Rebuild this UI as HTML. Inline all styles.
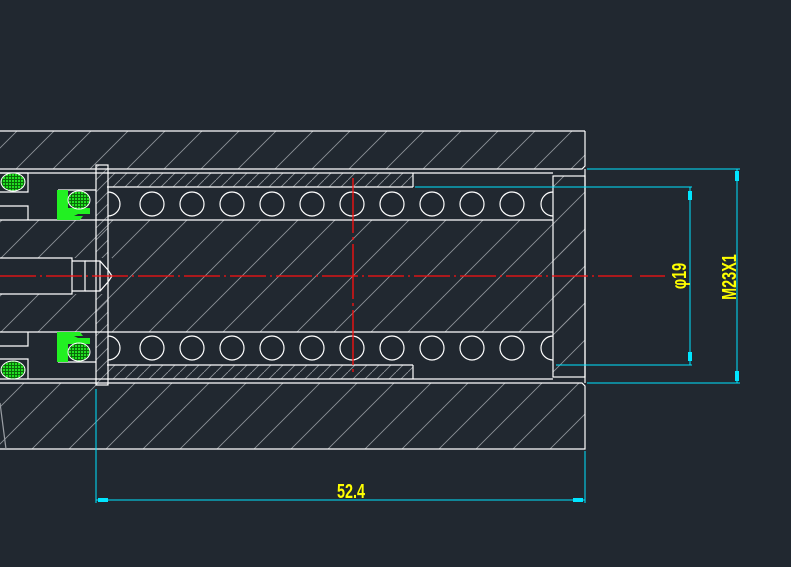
<!DOCTYPE html>
<html><head><meta charset="utf-8"><style>
html,body{margin:0;padding:0;background:#212830;}
svg{display:block}
text{font-family:"Liberation Sans",sans-serif;fill:#ffff00}
</style></head><body>
<svg width="791" height="567" viewBox="0 0 791 567" xmlns="http://www.w3.org/2000/svg">
<defs>
<pattern id="h" patternUnits="userSpaceOnUse" width="37" height="37">
<line x1="0" y1="37" x2="37" y2="0" stroke="#8e9298" stroke-width="0.9"/>
<line x1="-5" y1="5" x2="5" y2="-5" stroke="#8e9298" stroke-width="0.9"/>
<line x1="32" y1="42" x2="42" y2="32" stroke="#8e9298" stroke-width="0.9"/>
</pattern>
<pattern id="hs" patternUnits="userSpaceOnUse" width="12" height="12">
<line x1="0" y1="12" x2="12" y2="0" stroke="#8e9298" stroke-width="0.9"/>
</pattern>
<pattern id="g" patternUnits="userSpaceOnUse" width="3" height="3">
<rect width="3" height="3" fill="#0a6a0a"/><rect width="2" height="2" fill="#22e022"/>
</pattern>
</defs>
<rect width="791" height="567" fill="#212830"/>
<rect x="0" y="131" width="585" height="38" fill="url(#h)"/>
<rect x="0" y="220" width="585" height="112" fill="url(#h)"/>
<rect x="0" y="383" width="585" height="66" fill="url(#h)"/>
<rect x="553" y="176" width="32" height="201" fill="url(#h)"/>
<rect x="107" y="173" width="306" height="14" fill="url(#hs)"/>
<rect x="107" y="365" width="306" height="14" fill="url(#hs)"/>
<rect x="96" y="165" width="12" height="220" fill="url(#hs)"/>
<rect x="0" y="258" width="112" height="36" fill="#212830"/>
<g fill="none" stroke="#fff" stroke-width="1.2">
<line x1="0" y1="131" x2="585" y2="131"/>
<polyline points="585,131 585,166 582,169 0,169"/>
<line x1="0" y1="173" x2="553" y2="173"/>
<line x1="107" y1="187" x2="413" y2="187"/>
<line x1="413" y1="173" x2="413" y2="187"/>
<line x1="0" y1="220" x2="553" y2="220"/>
<line x1="0" y1="332" x2="553" y2="332"/>
<line x1="0" y1="379" x2="553" y2="379"/>
<line x1="107" y1="365" x2="413" y2="365"/>
<line x1="413" y1="365" x2="413" y2="379"/>
<polyline points="0,383 582,383 585,386 585,449 0,449"/>
<rect x="553" y="176" width="32" height="201"/>
<line x1="585" y1="169" x2="585" y2="383"/>
<rect x="96" y="165" width="12" height="220"/>
<polyline points="0,258 72,258 72,294 0,294"/>
<polyline points="72,261 85,261 85,291 72,291"/>
<polyline points="85,261 100,261 108,270 112,276 108,282 100,291 85,291"/>
<line x1="100" y1="261" x2="100" y2="291"/>
<polyline points="0,173 28,173 28,192 0,192"/>
<polyline points="0,206 28,206 28,220"/>
<polyline points="0,359 28,359 28,379"/>
<polyline points="0,346 28,346 28,332"/>
<polyline points="58,190 96,190"/><polyline points="58,362 96,362"/>
<line x1="0" y1="403" x2="6" y2="449" stroke="#9a9ea4"/>
</g>
<g fill="none" stroke="#fff" stroke-width="1.2">
<path d="M108,192 A12,12 0 0 1 108,216"/>
<path d="M108,336 A12,12 0 0 1 108,360"/>
<circle cx="152" cy="204" r="12"/><circle cx="192" cy="204" r="12"/><circle cx="232" cy="204" r="12"/><circle cx="272" cy="204" r="12"/><circle cx="312" cy="204" r="12"/><circle cx="352" cy="204" r="12"/><circle cx="392" cy="204" r="12"/><circle cx="432" cy="204" r="12"/><circle cx="472" cy="204" r="12"/><circle cx="512" cy="204" r="12"/>
<circle cx="152" cy="348" r="12"/><circle cx="192" cy="348" r="12"/><circle cx="232" cy="348" r="12"/><circle cx="272" cy="348" r="12"/><circle cx="312" cy="348" r="12"/><circle cx="352" cy="348" r="12"/><circle cx="392" cy="348" r="12"/><circle cx="432" cy="348" r="12"/><circle cx="472" cy="348" r="12"/><circle cx="512" cy="348" r="12"/>
<path d="M553,192 A12,12 0 0 0 553,216"/>
<path d="M553,336 A12,12 0 0 0 553,360"/>
</g>
<ellipse cx="13" cy="182" rx="12" ry="9" fill="url(#g)" stroke="#fff"/>
<ellipse cx="13" cy="370" rx="12" ry="9" fill="url(#g)" stroke="#fff"/>
<path d="M57,190 H68 V208 H90 V214 H78 L74,216 H83 L80,220 H57 Z" fill="#22f022"/>
<ellipse cx="79" cy="200" rx="11" ry="9" fill="url(#g)" stroke="#fff"/>
<path d="M57,362 H68 V344 H90 V338 H78 L74,336 H83 L80,332 H57 Z" fill="#22f022"/>
<ellipse cx="79" cy="352" rx="11" ry="9" fill="url(#g)" stroke="#fff"/>
<line x1="0" y1="276" x2="632" y2="276" stroke="#ff1010" stroke-width="1.3" stroke-dasharray="36,4,2,4"/>
<line x1="640" y1="276" x2="665" y2="276" stroke="#ff1010" stroke-width="1.3"/>
<line x1="353" y1="178" x2="353" y2="372" stroke="#ff1010" stroke-width="1.3" stroke-dasharray="55,4,3,4"/>
<g stroke="#00e5ff" stroke-width="1" fill="#00e5ff">
<line x1="587" y1="169" x2="740" y2="169"/>
<line x1="587" y1="383" x2="740" y2="383"/>
<line x1="737" y1="169" x2="737" y2="383"/>
<line x1="415" y1="187" x2="692" y2="187"/>
<line x1="556" y1="365" x2="692" y2="365"/>
<line x1="690" y1="187" x2="690" y2="365"/>
<line x1="96" y1="389" x2="96" y2="503"/>
<line x1="585" y1="451" x2="585" y2="503"/>
<line x1="96" y1="500" x2="585" y2="500"/>
<rect x="735" y="171" width="4" height="10" stroke="none"/>
<rect x="735" y="371" width="4" height="10" stroke="none"/>
<rect x="688" y="191" width="4" height="9" stroke="none"/>
<rect x="688" y="352" width="4" height="9" stroke="none"/>
<rect x="98" y="498" width="10" height="4" stroke="none"/>
<rect x="573" y="498" width="10" height="4" stroke="none"/>
</g>
<text font-size="18" transform="translate(686,276) rotate(-90) scale(0.8,1.15)" text-anchor="middle" font-weight="bold">φ19</text>
<text font-size="18" transform="translate(736,277) rotate(-90) scale(0.8,1.15)" text-anchor="middle" font-weight="bold">M23X1</text>
<text font-size="18" transform="translate(351,498) scale(0.8,1.15)" text-anchor="middle" font-weight="bold">52.4</text>
</svg>
</body></html>
